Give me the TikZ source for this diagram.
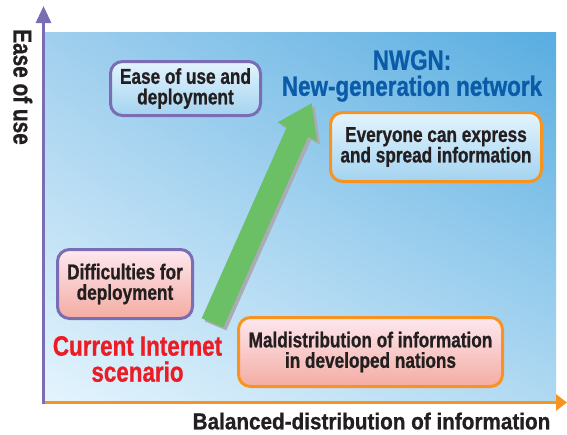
\documentclass[tikz,border=0pt]{standalone}
\usepackage{fontspec}
\newfontfamily\cf[FakeStretch=0.8,FakeBold=0.8]{Liberation Sans}
\newfontfamily\cfw[FakeStretch=0.9,FakeBold=0.8]{Liberation Sans}
\usetikzlibrary{arrows.meta,shadings}
\definecolor{axpurple}{HTML}{7A6DB3}
\definecolor{axorange}{HTML}{F7931E}
\definecolor{nblue}{HTML}{0B5CA8}
\definecolor{cred}{HTML}{EC1C24}
\definecolor{txt}{HTML}{231F20}
\definecolor{arrgreen}{HTML}{6BBF65}
\definecolor{arrgray}{HTML}{A9ABB5}
\definecolor{bluetop}{HTML}{E4F4FD}
\definecolor{bluebot}{HTML}{A3D3F0}
\definecolor{pinktop}{HTML}{FDE8EF}
\definecolor{pinkbot}{HTML}{F4ACA2}
\definecolor{bgll}{HTML}{E4F4FD}
\definecolor{bgul}{HTML}{A0CFEE}
\definecolor{bglr}{HTML}{B0D9F2}
\definecolor{bgur}{HTML}{58ADE1}
\newcommand\bigarrowshape[1]{\fill[#1] (201.7,318.3) -- (286.7,127.3) -- (277.7,122.3) -- (311.7,103.3) -- (317.1,141.8) -- (308.1,136.8) -- (223.3,327.3) -- cycle;}
\begin{document}
\begin{tikzpicture}[x=1pt,y=-1pt,
  box/.style={rounded corners=12pt, line width=3pt, align=center, inner sep=0pt,
    font=\cf\bfseries\fontsize{21.5}{20.5}\selectfont, text=txt},
  bluebox/.style={box, top color=bluetop, bottom color=bluebot},
  pinkbox/.style={box, top color=pinktop, bottom color=pinkbot},
  bigtext/.style={font=\cf\bfseries\fontsize{28}{26}\selectfont, align=center, inner sep=0pt},
  axis/.style={line width=3pt}]
\fill[white] (0,0) rectangle (567,434);
\useasboundingbox (0,0) rectangle (567,434);
% background
\shade[lower left=bgll, upper left=bgul, lower right=bglr, upper right=bgur] (45,32) rectangle (556,402);
% axes
\coordinate (o) at (43.5,404);
\coordinate (ytop) at (43.5,6);
\coordinate (ox) at (45,402.5);
\coordinate (xend) at (567,402.5);
\draw[axis, axpurple, -{Triangle[length=17pt,width=15pt]}] (o) -- (ytop);
\draw[axis, axorange, -{Triangle[length=11pt,width=16pt]}] (ox) -- (xend);
% boxes
\node[bluebox, draw=axpurple, minimum width=150pt, minimum height=54pt] (ease) at (185.5,88.5) {Ease of use and\\deployment};
\node[bluebox, draw=axorange, minimum width=211pt, minimum height=69pt] (every) at (436,147) {Everyone can express\\and spread information};
\node[pinkbox, draw=axpurple, minimum width=135pt, minimum height=69pt] (diff) at (125,284) {Difficulties for\\deployment};
\node[pinkbox, draw=axorange, minimum width=264pt, minimum height=69pt] (mald) at (370.5,352) {Maldistribution of information\\in developed nations};
% big arrow
\begin{scope}[shift={(3,3)}]
\bigarrowshape{arrgray}
\end{scope}
\bigarrowshape{arrgreen}
% labels
\node[bigtext, text=nblue] (nwgn) at (412,76) {NWGN:\\New-generation network};
\node[bigtext, text=cred] (cur) at (137.5,359) {Current Internet\\scenario};
\node[font=\cfw\bfseries\fontsize{23}{24}\selectfont, text=txt, anchor=base, inner sep=0pt] (xl) at (371.5,429.3) {Balanced-distribution of information};
\node[font=\cf\bfseries\fontsize{26}{28}\selectfont, text=txt, anchor=base, rotate=-90, inner sep=0pt] (yl) at (13.5,87) {Ease of use};
\end{tikzpicture}
\end{document}
